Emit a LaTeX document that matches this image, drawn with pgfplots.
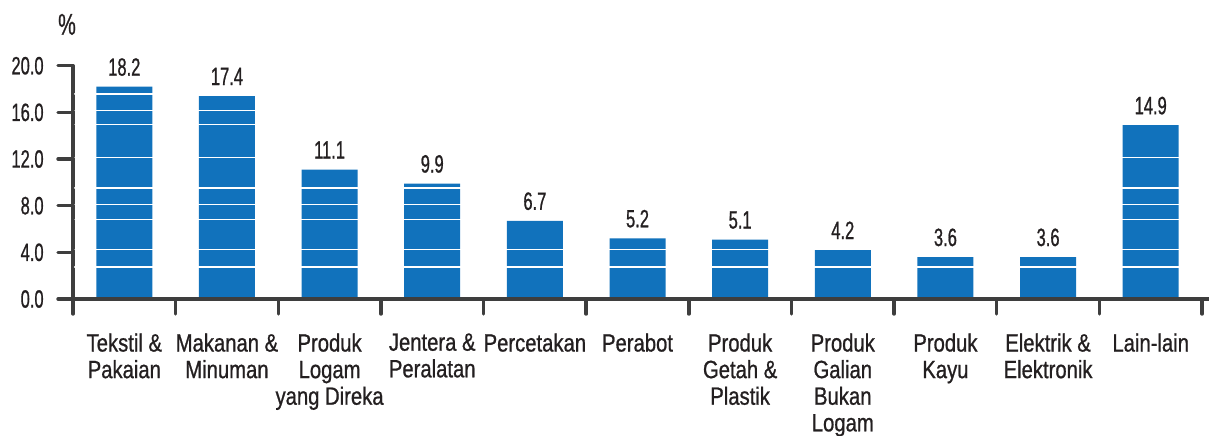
\documentclass[border=0pt]{standalone}
\usepackage{pgfplots}
\pgfplotsset{compat=1.18}
\usepackage{fontspec}
\setmainfont[FakeStretch=0.81, FakeBold=0.8]{Liberation Sans}
\newfontfamily\numfont[FakeStretch=0.66, FakeBold=0.8]{Liberation Sans}
\definecolor{barblue}{RGB}{17,114,188}
\definecolor{axisgrey}{RGB}{62,62,62}
\definecolor{txt}{RGB}{35,31,32}
\pgfplotstableread{
x y
0 18.2
1 17.4
2 11.1
3 9.9
4 6.7
5 5.2
6 5.1
7 4.2
8 3.6
9 3.6
10 14.9
}\datatable
\begin{document}
\begin{tikzpicture}
\useasboundingbox (-36.5pt,-68pt) rectangle (568pt,149.5pt);
\begin{axis}[
  at={(0,0)}, anchor=south west,
  scale only axis,
  width=568pt, height=116.65pt,
  xmin=-0.5, xmax=10.568, ymin=0, ymax=20,
  axis x line*=bottom, axis y line*=left,
  axis line style={axisgrey, line width=1.7pt, line cap=round},
  tick style={axisgrey, line width=1.7pt, line cap=round},
  tick align=outside,
  major tick length=7.5pt,
  axis on top,
  clip=false,
  /pgf/number format/assume math mode=true,
  ytick={0,4,8,12,16,20},
  yticklabel style={font=\fontsize{12.5}{14}\numfont, text=txt, inner sep=0pt, anchor=east, xshift=-7pt,
    /pgf/number format/fixed, /pgf/number format/fixed zerofill, /pgf/number format/precision=1},
  extra y ticks={2.74,4.25,6.8,8.11,9.51,12.14,14.95,16.17,17.57},
  extra y tick style={grid=major, major grid style={white, line width=0.6pt}, major tick length=0pt, yticklabel={}},
  xtick={-0.5,0.5,1.5,2.5,3.5,4.5,5.5,6.5,7.5,8.5,9.5,10.5},
  x tick label as interval,
  xticklabels={{Tekstil \&\\Pakaian},{Makanan \&\\Minuman},{Produk\\Logam\\yang Direka},{Jentera \&\\Peralatan},{Percetakan},{Perabot},{Produk\\Getah \&\\Plastik},{Produk\\Galian\\Bukan\\Logam},{Produk\\Kayu},{Elektrik \&\\Elektronik},{Lain-lain}},
  xticklabel style={font=\fontsize{12.5}{13.3}\selectfont, text=txt, align=center, anchor=north, inner sep=0pt, yshift=-9.5pt},
  nodes near coords,
  every node near coord/.append style={font=\fontsize{12.5}{14}\numfont, text=txt, anchor=base, yshift=5.5pt,
    /pgf/number format/fixed, /pgf/number format/fixed zerofill, /pgf/number format/precision=1},
]
\addplot[ybar, bar width=28pt, fill=barblue, draw=none] table[x=x,y=y]{\datatable};
\node[font=\fontsize{15}{16}\numfont, text=txt, anchor=base] at ([xshift=-3pt,yshift=15.5pt]rel axis cs:0,1) {\%};
\end{axis}
\end{tikzpicture}
\end{document}
